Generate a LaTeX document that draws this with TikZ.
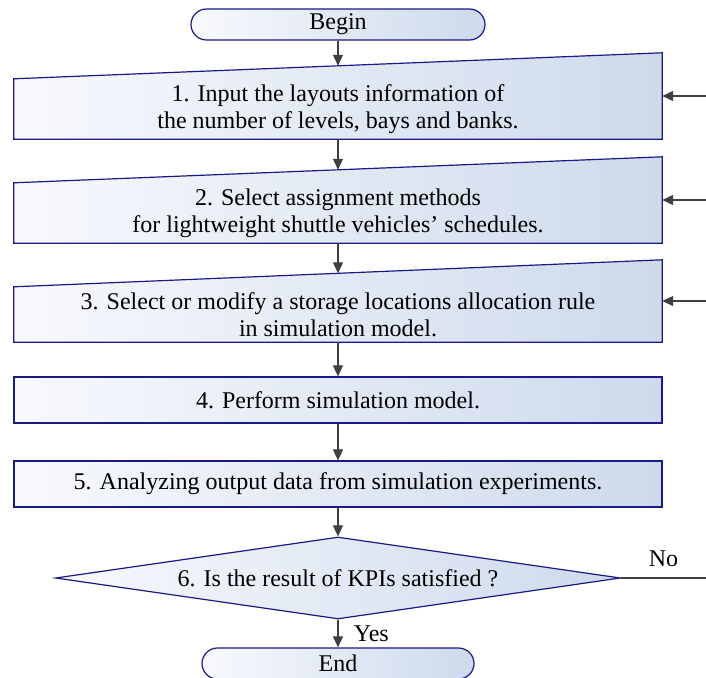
\documentclass[tikz,border=0pt]{standalone}
\usepackage{fontspec}
\setmainfont{Liberation Serif}
\newfontfamily\flowfont{Liberation Serif}
\usetikzlibrary{shapes.geometric, arrows.meta, positioning, calc}

\definecolor{boxline}{RGB}{25,25,135}
\definecolor{boxleft}{RGB}{248,249,253}
\definecolor{boxright}{RGB}{205,218,236}
\definecolor{flowline}{RGB}{64,64,64}

\tikzset{
  boxfill/.style={draw=boxline, line width=1.2pt, left color=boxleft, right color=boxright},
  terminal/.style={boxfill, rectangle, rounded corners=15.5pt, minimum height=31pt, inner sep=0pt},
  stepbox/.style={boxfill, rectangle, minimum width=648pt, minimum height=46pt, inner sep=0pt},
  inputbox/.style={rectangle, minimum width=648pt, inner sep=0pt},
  steptext/.style={align=center, inner sep=0pt},
  decision/.style={boxfill, diamond, aspect=6.9, minimum width=565pt, minimum height=82pt, inner sep=0pt},
  flow/.style={draw=flowline, line width=1.1pt, -{Triangle[length=11pt,width=10pt]}},
}

\begin{document}
\begin{tikzpicture}[x=1pt, y=-1pt, font=\flowfont\fontsize{24}{27}\selectfont]
    \useasboundingbox (0,0) rectangle (706,677);

    % Begin
    \node[terminal, minimum width=294pt] (start) at (338,24.5) {Begin};

    % Step 1 (sloped top)
    \node[inputbox, minimum height=86pt] (in1) at (338,96) {};
    \draw[boxfill] (in1.south west) -- ([yshift=-26pt]in1.north west) -- (in1.north east) -- (in1.south east) -- cycle;
    \node[steptext] (t1) at ($(in1.south)+(0,-30)$) {1. Input the layouts information of\\the number of levels, bays and banks.};

    % Step 2 (sloped top)
    \node[inputbox, minimum height=86pt] (in2) at (338,200) {};
    \draw[boxfill] (in2.south west) -- ([yshift=-26pt]in2.north west) -- (in2.north east) -- (in2.south east) -- cycle;
    \node[steptext] (t2) at ($(in2.south)+(0,-30)$) {2. Select assignment methods\\for lightweight shuttle vehicles’ schedules.};

    % Step 3 (sloped top)
    \node[inputbox, minimum height=82pt] (in3) at (338,301) {};
    \draw[boxfill] (in3.south west) -- ([yshift=-27pt]in3.north west) -- (in3.north east) -- (in3.south east) -- cycle;
    \node[steptext] (t3) at ($(in3.south)+(0,-27.5)$) {3. Select or modify a storage locations allocation rule\\in simulation model.};

    % Steps 4 and 5
    \node[stepbox] (s4) at (338,400) {4. Perform simulation model.};
    \node[stepbox] (s5) at (338,484) {5. Analyzing output data from simulation experiments.};

    % Decision
    \node[decision] (check) at (338,578) {6. Is the result of KPIs satisfied ?};

    % End
    \node[terminal, minimum width=272pt] (stop) at (338,663.5) {End};

    % Main flow
    \draw[flow] (start) -- ($(in1.north)+(0,13)$);
    \draw[flow] (in1.south) -- ($(in2.north)+(0,13)$);
    \draw[flow] (in2.south) -- ($(in3.north)+(0,13.5)$);
    \draw[flow] (in3.south) -- (s4);
    \draw[flow] (s4) -- (s5);
    \draw[flow] (s5) -- (check);
    \draw[flow] (check) -- node[right, xshift=12pt] (yes) {Yes} (stop);

    % Feedback
    \coordinate (noend) at (706,578);
    \draw[draw=flowline, line width=1.1pt] (check.east) -- node[above, yshift=7pt] (no) {No} (noend);
    \coordinate (back1) at (706,96);
    \coordinate (back2) at (706,200);
    \coordinate (back3) at (706,301);
    \draw[flow] (back1) -- (in1.east);
    \draw[flow] (back2) -- (in2.east);
    \draw[flow] (back3) -- (in3.east);
\end{tikzpicture}
\end{document}
